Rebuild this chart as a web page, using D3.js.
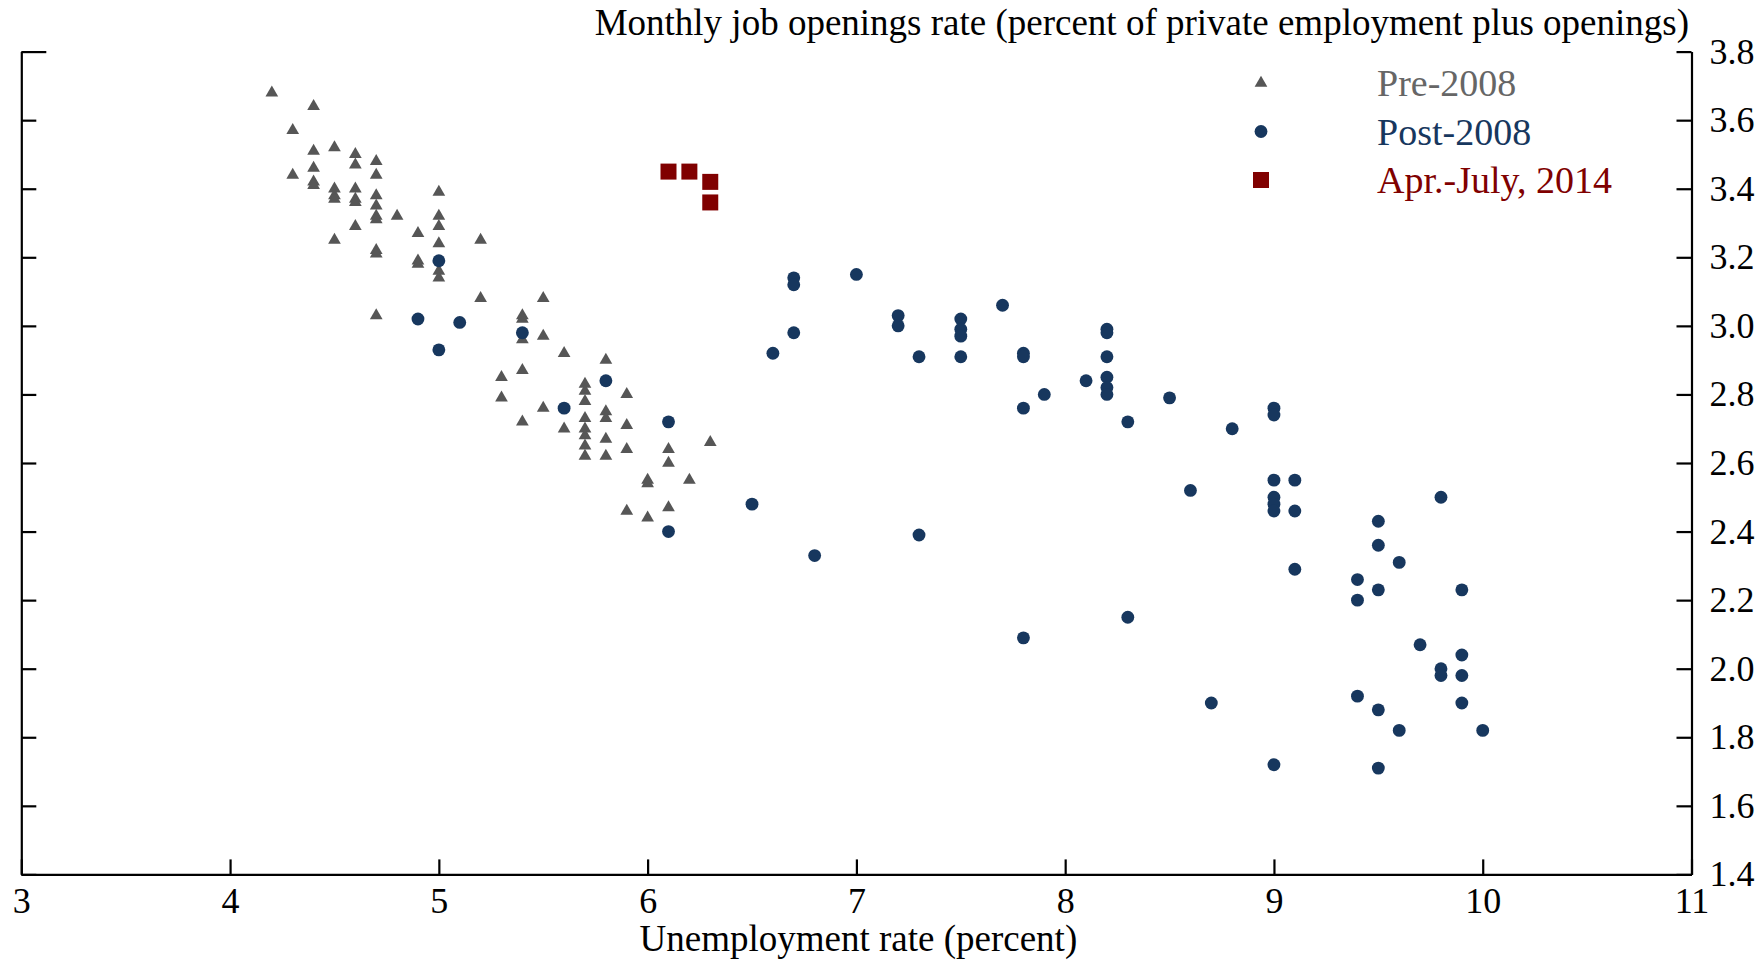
<!DOCTYPE html>
<html>
<head>
<meta charset="utf-8">
<script src="https://cdn.jsdelivr.net/npm/d3@7"></script>
<style>
  body { margin: 0; background: #fff; }
  svg text { font-family: "Liberation Serif", "Times New Roman", serif; }
</style>
</head>
<body>
<div id="chart"></div>
<script>

    const WIDTH = 1760;
    const HEIGHT = 960;
    const FONT = 36;

    // unemployment rate, job openings rate
    const pre2008 = [
        [4.2, 3.68], [4.3, 3.57], [4.3, 3.44], [4.4, 3.64], [4.4, 3.51], [4.4, 3.46],
        [4.4, 3.42], [4.4, 3.41], [4.5, 3.52], [4.5, 3.40], [4.5, 3.38], [4.5, 3.37],
        [4.5, 3.25], [4.6, 3.50], [4.6, 3.47], [4.6, 3.40], [4.6, 3.37], [4.6, 3.36],
        [4.6, 3.29], [4.7, 3.48], [4.7, 3.44], [4.7, 3.38], [4.7, 3.35], [4.7, 3.32],
        [4.7, 3.31], [4.7, 3.22], [4.7, 3.21], [4.7, 3.03], [4.8, 3.32], [4.9, 3.27],
        [4.9, 3.19], [4.9, 3.18], [5.0, 3.39], [5.0, 3.32], [5.0, 3.29], [5.0, 3.24],
        [5.0, 3.16], [5.0, 3.14], [5.2, 3.25], [5.2, 3.08], [5.3, 2.85], [5.3, 2.79],
        [5.4, 3.03], [5.4, 3.02], [5.4, 2.96], [5.4, 2.87], [5.4, 2.72], [5.5, 3.08],
        [5.5, 2.97], [5.5, 2.76], [5.6, 2.92], [5.6, 2.70], [5.7, 2.83], [5.7, 2.81],
        [5.7, 2.78], [5.7, 2.73], [5.7, 2.70], [5.7, 2.68], [5.7, 2.65], [5.7, 2.62],
        [5.8, 2.90], [5.8, 2.75], [5.8, 2.73], [5.8, 2.67], [5.8, 2.62], [5.9, 2.80],
        [5.9, 2.71], [5.9, 2.64], [5.9, 2.46], [6.0, 2.55], [6.0, 2.54], [6.0, 2.44],
        [6.1, 2.64], [6.1, 2.60], [6.1, 2.47], [6.2, 2.55], [6.3, 2.66]
    ];

    const post2008 = [
        [4.9, 3.02], [5.0, 3.19], [5.0, 2.93], [5.1, 3.01], [5.4, 2.98], [5.6, 2.76],
        [5.8, 2.84], [6.1, 2.72], [6.1, 2.40], [6.5, 2.48], [6.6, 2.92], [6.7, 3.14],
        [6.7, 3.12], [6.7, 2.98], [6.8, 2.33], [7.0, 3.15], [7.2, 3.03], [7.2, 3.00],
        [7.3, 2.91], [7.3, 2.39], [7.5, 3.02], [7.5, 2.99], [7.5, 2.97], [7.5, 2.91],
        [7.7, 3.06], [7.8, 2.92], [7.8, 2.91], [7.8, 2.76], [7.8, 2.09], [7.9, 2.80],
        [8.1, 2.84], [8.2, 2.99], [8.2, 2.98], [8.2, 2.91], [8.2, 2.85], [8.2, 2.82],
        [8.2, 2.80], [8.3, 2.72], [8.3, 2.15], [8.5, 2.79], [8.6, 2.52], [8.7, 1.90],
        [8.8, 2.70], [9.0, 2.76], [9.0, 2.74], [9.0, 2.55], [9.0, 2.50], [9.0, 2.48],
        [9.0, 2.46], [9.0, 1.72], [9.1, 2.55], [9.1, 2.46], [9.1, 2.29], [9.4, 2.26],
        [9.4, 2.20], [9.4, 1.92], [9.5, 2.43], [9.5, 2.36], [9.5, 2.23], [9.5, 1.88],
        [9.5, 1.71], [9.6, 2.31], [9.6, 1.82], [9.7, 2.07], [9.8, 2.50], [9.8, 2.00],
        [9.8, 1.98], [9.9, 2.23], [9.9, 2.04], [9.9, 1.98], [9.9, 1.90], [10.0, 1.82]
    ];

    const recent2014 = [[6.1, 3.45], [6.2, 3.45], [6.3, 3.42], [6.3, 3.36]];

    const xTicks = [3, 4, 5, 6, 7, 8, 9, 10, 11];
    const yTicks = [1.4, 1.6, 1.8, 2.0, 2.2, 2.4, 2.6, 2.8, 3.0, 3.2, 3.4, 3.6, 3.8];

    const legendNames = ["Pre-2008", "Post-2008", "Apr.-July, 2014"];
    const legendText = ["#666666", "#17375e", "#800000"];
    const markColor = ["#565656", "#17375e", "#800000"];
    const markShape = [d3.symbolTriangle, d3.symbolCircle, d3.symbolSquare];
    const markSize = [70, 130, 256];

    const plotLeft = 21.3, plotRight = 1691.5, plotTop = 51.6, plotBottom = 874.4;

    var x = d3.scaleLinear().domain([3, 11]).range([plotLeft, plotRight]);
    var y = d3.scaleLinear().domain([1.4, 3.8]).range([plotBottom, plotTop]);

    var svg = d3.select("#chart").append("svg")
        .attr("width", WIDTH)
        .attr("height", HEIGHT);

    // bottom axis, ticks pointing up
    var xAxis = svg.append("g")
        .attr("transform", "translate(0," + plotBottom + ")")
        .call(d3.axisBottom(x).tickValues(xTicks).tickFormat(d3.format("d"))
            .tickSizeInner(-15).tickSizeOuter(0).tickPadding(13));

    // left axis, no labels
    var yLeft = svg.append("g")
        .attr("transform", "translate(" + plotLeft + ",0)")
        .call(d3.axisLeft(y).tickValues(yTicks).tickFormat("")
            .tickSizeInner(-15).tickSizeOuter(0));
    yLeft.selectAll(".tick line").filter(d => d == 3.8).attr("x2", 25);

    // right axis with labels
    var yRight = svg.append("g")
        .attr("transform", "translate(" + plotRight + ",0)")
        .call(d3.axisRight(y).tickValues(yTicks).tickFormat(d3.format(".1f"))
            .tickSizeInner(-15).tickSizeOuter(0).tickPadding(18));

    [xAxis, yLeft, yRight].forEach(function (g) {
        g.selectAll("path, line").attr("stroke", "#000").attr("stroke-width", 2.2);
        g.selectAll("text")
            .attr("font-family", "Liberation Serif")
            .attr("font-size", FONT)
            .attr("fill", "#000");
    });

    // titles
    svg.append("text")
        .attr("x", 1689)
        .attr("y", 35)
        .attr("text-anchor", "end")
        .attr("font-size", 37)
        .text("Monthly job openings rate (percent of private employment plus openings)");

    svg.append("text")
        .attr("x", (plotLeft + plotRight) / 2 + 2)
        .attr("y", 951)
        .attr("text-anchor", "middle")
        .attr("font-size", 37)
        .text("Unemployment rate (percent)");

    // points
    [pre2008, post2008, recent2014].forEach(function (series, i) {
        svg.append("g").selectAll("path")
            .data(series)
            .enter().append("path")
            .attr("d", d3.symbol().type(markShape[i]).size(markSize[i]))
            .attr("transform", d => "translate(" + x(d[0]) + "," + y(d[1]) + ")")
            .attr("fill", markColor[i]);
    });

    // legend
    legendNames.forEach(function (name, i) {
        var ly = 83 + i * 48.5;
        svg.append("path")
            .attr("d", d3.symbol().type(markShape[i]).size(markSize[i]))
            .attr("transform", "translate(1261," + ly + ")")
            .attr("fill", markColor[i]);
        svg.append("text")
            .attr("x", 1377)
            .attr("y", ly + 13)
            .attr("font-size", 38)
            .attr("fill", legendText[i])
            .text(name);
    });

</script>
</body>
</html>
